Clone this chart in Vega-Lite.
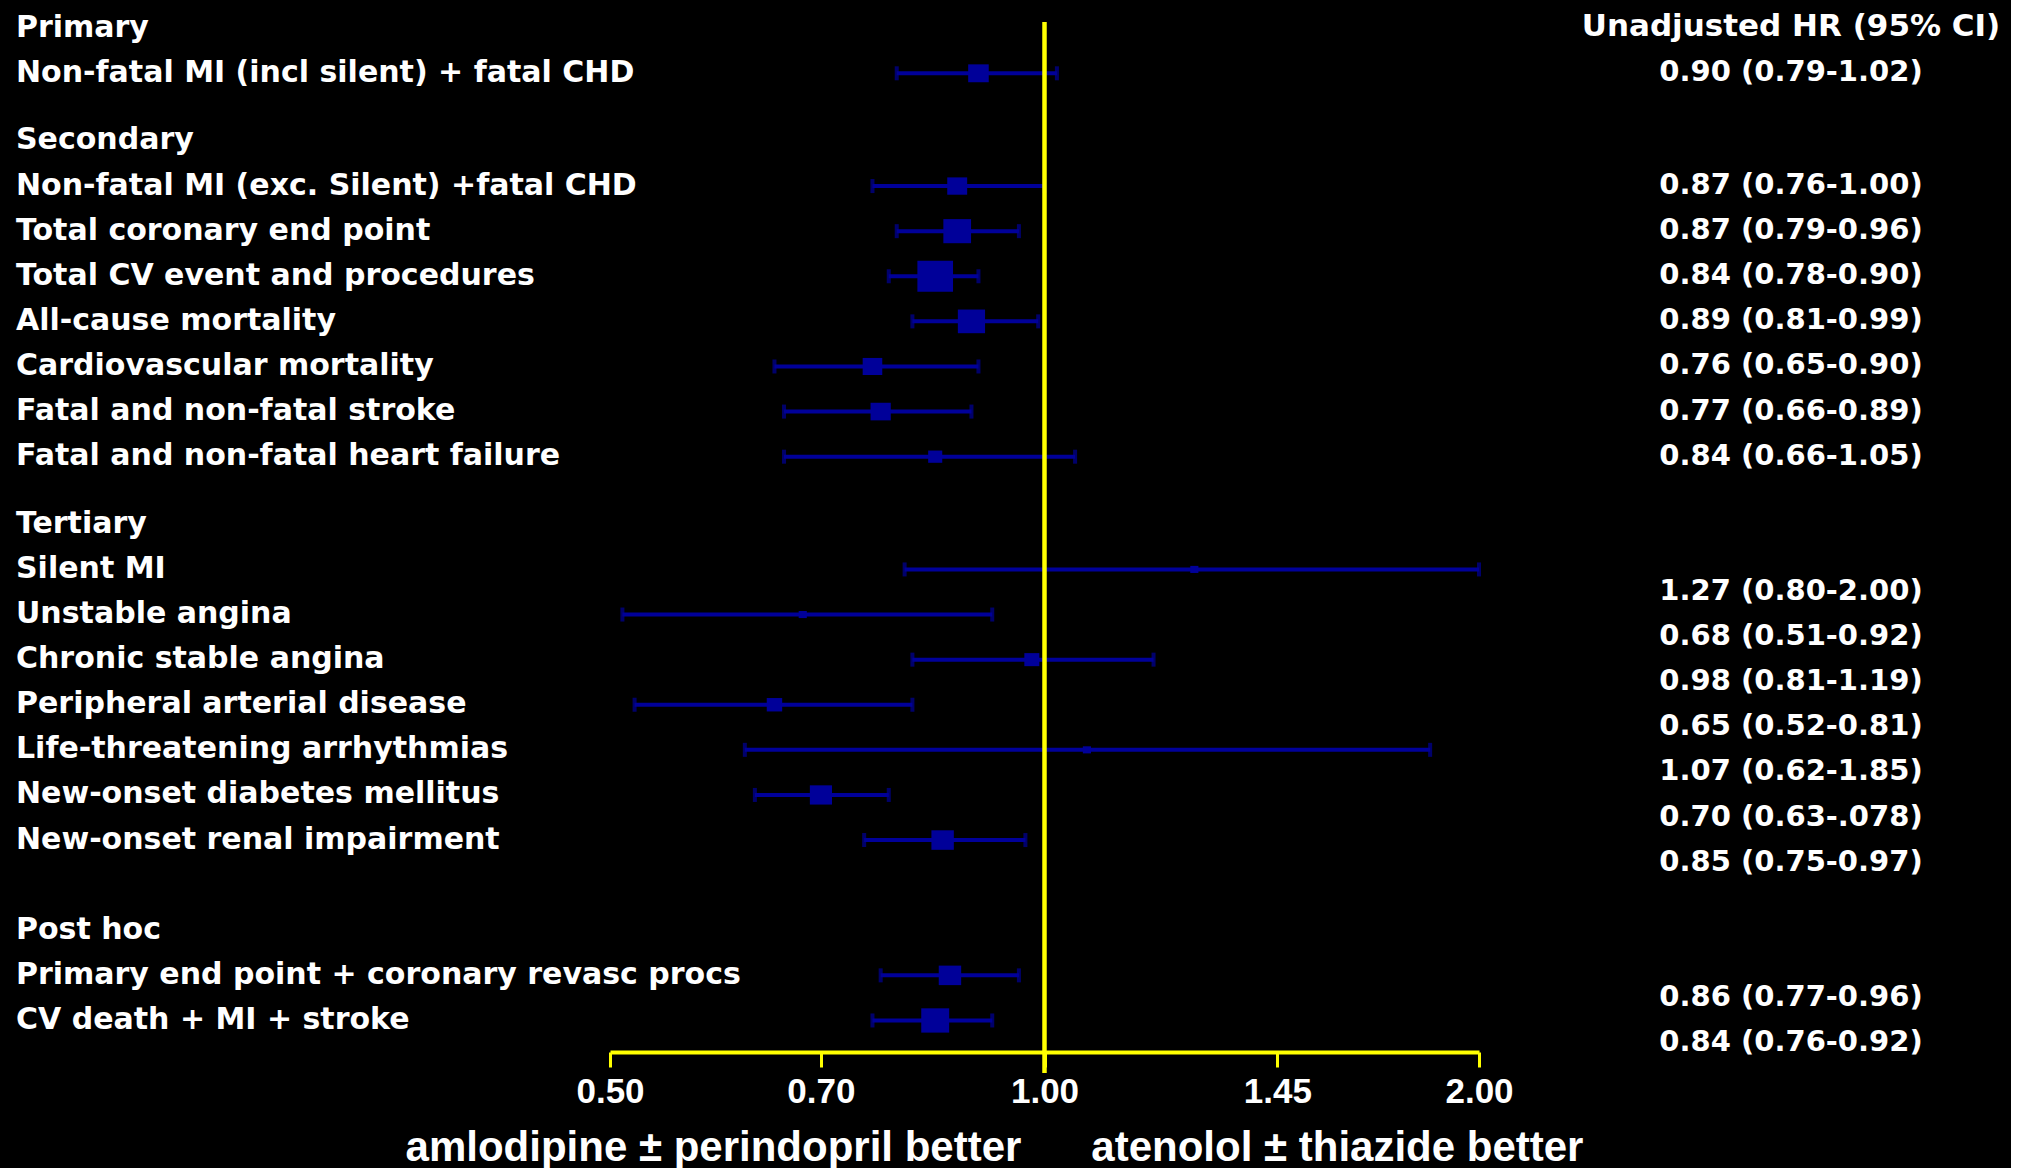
{
  "$schema": "https://vega.github.io/schema/vega-lite/v6.json",
  "background": "black",
  "autosize": {"type": "pad"},
  "padding": {"left": 16, "top": 11, "right": 0, "bottom": 0},
  "config": {"view": {"stroke": null}},
  "datasets": {
    "rows": [
      {"label": "Primary", "line": 0},
      {"label": "Non-fatal MI (incl silent) + fatal CHD", "line": 2, "hr": 0.90, "lo": 0.79, "hi": 1.02, "weight": 32, "ci": "0.90 (0.79-1.02)", "ciLine": 2},
      {"label": "Secondary", "line": 5},
      {"label": "Non-fatal MI (exc. Silent) +fatal CHD", "line": 7, "hr": 0.87, "lo": 0.76, "hi": 1.00, "weight": 30, "ci": "0.87 (0.76-1.00)", "ciLine": 7},
      {"label": "Total coronary end point", "line": 9, "hr": 0.87, "lo": 0.79, "hi": 0.96, "weight": 58, "ci": "0.87 (0.79-0.96)", "ciLine": 9},
      {"label": "Total CV event and procedures", "line": 11, "hr": 0.84, "lo": 0.78, "hi": 0.90, "weight": 96, "ci": "0.84 (0.78-0.90)", "ciLine": 11},
      {"label": "All-cause mortality", "line": 13, "hr": 0.89, "lo": 0.81, "hi": 0.99, "weight": 56, "ci": "0.89 (0.81-0.99)", "ciLine": 13},
      {"label": "Cardiovascular mortality", "line": 15, "hr": 0.76, "lo": 0.65, "hi": 0.90, "weight": 29, "ci": "0.76 (0.65-0.90)", "ciLine": 15},
      {"label": "Fatal and non-fatal stroke", "line": 17, "hr": 0.77, "lo": 0.66, "hi": 0.89, "weight": 31, "ci": "0.77 (0.66-0.89)", "ciLine": 17},
      {"label": "Fatal and non-fatal heart failure", "line": 19, "hr": 0.84, "lo": 0.66, "hi": 1.05, "weight": 15, "ci": "0.84 (0.66-1.05)", "ciLine": 19},
      {"label": "Tertiary", "line": 22},
      {"label": "Silent MI", "line": 24, "hr": 1.27, "lo": 0.80, "hi": 2.00, "weight": 5, "ci": "1.27 (0.80-2.00)", "ciLine": 25},
      {"label": "Unstable angina", "line": 26, "hr": 0.68, "lo": 0.51, "hi": 0.92, "weight": 5, "ci": "0.68 (0.51-0.92)", "ciLine": 27},
      {"label": "Chronic stable angina", "line": 28, "hr": 0.98, "lo": 0.81, "hi": 1.19, "weight": 17, "ci": "0.98 (0.81-1.19)", "ciLine": 29},
      {"label": "Peripheral arterial disease", "line": 30, "hr": 0.65, "lo": 0.52, "hi": 0.81, "weight": 18, "ci": "0.65 (0.52-0.81)", "ciLine": 31},
      {"label": "Life-threatening arrhythmias", "line": 32, "hr": 1.07, "lo": 0.62, "hi": 1.85, "weight": 5, "ci": "1.07 (0.62-1.85)", "ciLine": 33},
      {"label": "New-onset diabetes mellitus", "line": 34, "hr": 0.70, "lo": 0.63, "hi": 0.78, "weight": 37, "ci": "0.70 (0.63-.078)", "ciLine": 35},
      {"label": "New-onset renal impairment", "line": 36, "hr": 0.85, "lo": 0.75, "hi": 0.97, "weight": 38, "ci": "0.85 (0.75-0.97)", "ciLine": 37},
      {"label": "Post hoc", "line": 40},
      {"label": "Primary end point + coronary revasc procs", "line": 42, "hr": 0.86, "lo": 0.77, "hi": 0.96, "weight": 38, "ci": "0.86 (0.77-0.96)", "ciLine": 43},
      {"label": "CV death + MI + stroke", "line": 44, "hr": 0.84, "lo": 0.76, "hi": 0.92, "weight": 59, "ci": "0.84 (0.76-0.92)", "ciLine": 45}
    ],
    "columnHeader": [{"text": "Unadjusted HR (95% CI)", "line": 0}],
    "noEffect": [{"hr": 1}]
  },
  "bounds": "flush",
  "spacing": 0,
  "resolve": {"scale": {"x": "independent", "y": "independent"}},
  "hconcat": [
    {
      "width": 594,
      "height": 1030,
      "data": {"name": "rows"},
      "mark": {"type": "text", "align": "left", "baseline": "middle", "dy": 4.5, "font": "DejaVu Sans", "fontWeight": "bold", "fontSize": 30, "color": "white"},
      "encoding": {
        "x": {"datum": 0, "type": "quantitative", "scale": {"domain": [0, 1]}, "axis": null},
        "y": {"field": "line", "type": "quantitative", "scale": {"domain": [-0.053, 45.62], "reverse": true, "nice": false, "zero": false}, "axis": null},
        "text": {"field": "label"}
      }
    },
    {
      "bounds": "flush",
      "spacing": 92,
      "resolve": {"scale": {"x": "independent", "y": "independent"}},
      "hconcat": [
        {
          "width": 869,
          "height": 1030,
          "layer": [
            {
              "data": {"name": "rows"},
              "transform": [{"filter": "isValid(datum.hr)"}],
              "mark": {"type": "rule", "color": "#000099", "strokeWidth": 4, "yOffset": 5},
              "encoding": {
                "x": {"field": "lo", "type": "quantitative", "scale": {"type": "log", "domain": [0.5, 2], "nice": false},
                  "axis": {
                    "values": [0.5, 0.7, 1, 1.45, 2], "format": ".2f", "grid": false,
                    "domainColor": "#FFFF00", "domainWidth": 4,
                    "tickColor": "#FFFF00", "tickWidth": 3, "tickSize": 15,
                    "labelColor": "white", "labelFont": "Liberation Sans", "labelFontWeight": "bold", "labelFontSize": 35,
                    "labelPadding": 7, "labelFlush": false, "labelOverlap": false,
                    "title": "amlodipine ± perindopril better\u00a0\u00a0\u00a0\u00a0\u00a0\u00a0atenolol ± thiazide better",
                    "titleColor": "white", "titleFont": "Liberation Sans", "titleFontWeight": "bold", "titleFontSize": 42,
                    "titleX": 384, "titleY": 108, "titleAlign": "center", "titleBaseline": "alphabetic"
                  }
                },
                "x2": {"field": "hi"},
                "y": {"field": "line", "type": "quantitative", "scale": {"domain": [-0.053, 45.62], "reverse": true, "nice": false, "zero": false}, "axis": null}
              }
            },
            {
              "data": {"name": "rows"},
              "transform": [{"filter": "isValid(datum.hr)"}],
              "mark": {"type": "tick", "orient": "vertical", "color": "#000099", "size": 14, "thickness": 4, "yOffset": 5},
              "encoding": {
                "x": {"field": "lo", "type": "quantitative"},
                "y": {"field": "line", "type": "quantitative"}
              }
            },
            {
              "data": {"name": "rows"},
              "transform": [{"filter": "isValid(datum.hr)"}],
              "mark": {"type": "tick", "orient": "vertical", "color": "#000099", "size": 14, "thickness": 4, "yOffset": 5},
              "encoding": {
                "x": {"field": "hi", "type": "quantitative"},
                "y": {"field": "line", "type": "quantitative"}
              }
            },
            {
              "data": {"name": "rows"},
              "transform": [{"filter": "isValid(datum.hr)"}],
              "mark": {"type": "point", "shape": "M-1.15,-1L1.15,-1L1.15,1L-1.15,1Z", "filled": true, "color": "#000099", "opacity": 1, "strokeWidth": 0, "yOffset": 5},
              "encoding": {
                "x": {"field": "hr", "type": "quantitative"},
                "y": {"field": "line", "type": "quantitative"},
                "size": {"field": "weight", "type": "quantitative", "scale": {"type": "linear", "domain": [0, 100], "range": [0, 1000], "zero": true}, "legend": null}
              }
            },
            {
              "data": {"name": "noEffect"},
              "mark": {"type": "rule", "color": "#FFFF00", "strokeWidth": 4.5, "y2": {"expr": "height + 21"}},
              "encoding": {
                "x": {"field": "hr", "type": "quantitative"}
              }
            }
          ]
        },
        {
          "width": 440,
          "height": 1030,
          "layer": [
            {
              "data": {"name": "columnHeader"},
              "mark": {"type": "text", "align": "center", "baseline": "middle", "dy": 4, "font": "DejaVu Sans", "fontWeight": "bold", "fontSize": 31, "color": "white"},
              "encoding": {
                "y": {"field": "line", "type": "quantitative", "scale": {"domain": [-0.053, 45.62], "reverse": true, "nice": false, "zero": false}, "axis": null},
                "text": {"field": "text"}
              }
            },
            {
              "data": {"name": "rows"},
              "transform": [{"filter": "isValid(datum.ci)"}],
              "mark": {"type": "text", "align": "center", "baseline": "middle", "dy": 4, "font": "DejaVu Sans", "fontWeight": "bold", "fontSize": 29, "color": "white"},
              "encoding": {
                "y": {"field": "ciLine", "type": "quantitative", "axis": null},
                "text": {"field": "ci"}
              }
            }
          ]
        }
      ]
    }
  ]
}
